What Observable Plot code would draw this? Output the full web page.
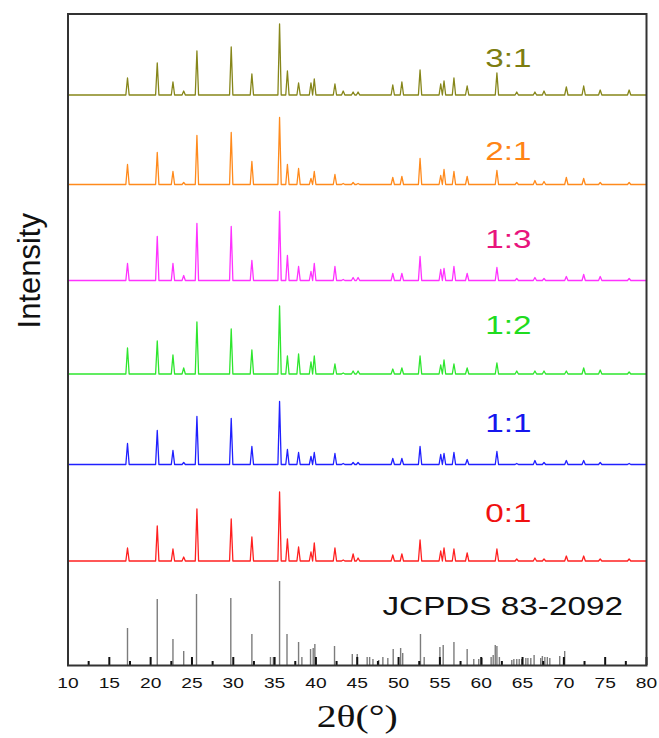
<!DOCTYPE html>
<html>
<head>
<meta charset="utf-8">
<script src="https://cdn.jsdelivr.net/npm/d3@7"></script>
<script src="https://cdn.jsdelivr.net/npm/@observablehq/plot@0.6"></script>
<style>
  html, body { margin: 0; padding: 0; background: #fff; }
  #chart svg { display: block; }
</style>
</head>
<body>
<div id="chart"></div>
<script>
// ---------- data ----------
const seriesNames = ["3:1", "2:1", "1:3", "1:2", "1:1", "0:1"];
const lineColors  = ["#86861a", "#ff8a1c", "#ff33ff", "#2ee62e", "#2020ff", "#ff2020"];
const labelColors = ["#7d7d10", "#ff8416", "#e8147c", "#1fdc1f", "#1616ee", "#f01010"];
// vertical stacking offsets of each pattern (intensity units)
const seriesOffsets = [570.5, 481, 385, 291.5, 201, 104.5];
// label height above each pattern's baseline
const labelLift = [36, 33, 41, 48, 41, 47];
const labelX = 63.3;

// 2θ peak positions shared by the measured patterns
const peakPositions = [17.2, 20.8, 22.7, 24.0, 25.6, 29.75, 32.25, 35.6, 36.55, 37.9, 39.4, 39.8,
  42.3, 43.3, 44.5, 45.1, 49.3, 50.4, 52.6, 55.1, 55.5, 56.7, 58.3, 61.9, 64.3, 66.5, 67.6,
  70.3, 72.4, 74.4, 77.9];
const h31 = [17, 32, 13, 4, 44, 48, 21, 71, 24, 12, 12, 16, 11, 4, 3, 3, 10, 13, 25, 11, 14, 17, 9, 22, 3, 3, 4, 8, 9, 5, 5];
const h21 = [20, 32, 13, 2, 49, 52, 23, 67, 20, 16, 6, 13, 10, 1, 2, 1, 7, 8, 26, 9, 15, 13, 8, 14, 2, 4, 3, 7, 6, 2, 2];
const h13 = [17, 44, 17, 5, 57, 54, 20, 69, 25, 14, 9, 17, 14, 1, 3, 3, 7, 7, 24, 11, 12, 14, 7, 13, 2, 3, 2, 4, 6, 4, 2];
const h12 = [26, 33, 19, 6, 52, 45, 24, 68, 18, 20, 12, 18, 10, 1, 3, 3, 5, 6, 18, 9, 14, 10, 6, 11, 3, 3, 3, 3, 6, 4, 2];
const h11 = [21, 34, 14, 2, 48, 46, 18, 63, 15, 12, 8, 12, 11, 1, 2, 2, 6, 6, 18, 10, 11, 12, 5, 13, 1, 4, 2, 4, 4, 2, 1];
const h01 = [13, 35, 12, 4, 52, 42, 24, 69, 22, 14, 9, 18, 13, 1, 7, 3, 6, 7, 21, 10, 13, 12, 8, 12, 2, 3, 2, 5, 5, 2, 2];
const seriesHeights = [h31, h21, h13, h12, h11, h01];

// JCPDS 83-2092 reference pattern
const refPositions = [17.2, 20.8, 22.7, 24.0, 25.55, 29.7, 32.25, 34.5, 34.85, 35.6, 36.5, 37.9, 38.3,
  39.35, 39.67, 39.87, 42.25, 44.4, 45.0, 46.2, 46.5, 46.9, 47.6, 48.1, 48.7, 49.35, 50.25, 50.5,
  52.65, 53.1, 55.0, 55.4, 56.7, 58.3, 59.1, 59.7, 60.1, 61.2, 61.45, 61.7, 61.9, 62.2, 63.7, 63.95,
  64.3, 64.6, 64.9, 65.4, 65.65, 66.0, 66.4, 67.2, 67.4, 67.7, 68.0, 68.3, 69.5, 70.1];
const refHeights = [37, 66, 26, 14, 71, 67, 31, 8, 8, 84, 31, 23, 8,
  16, 17, 21, 19, 11, 11, 8, 8, 6, 5, 8, 7, 16, 17, 12,
  31, 8, 18, 20, 23, 16, 6, 6, 7, 8, 10, 20, 19, 8, 5, 6,
  6, 6, 6, 7, 7, 7, 10, 7, 9, 8, 8, 7, 9, 14];

const xTicks = [10, 15, 20, 25, 30, 35, 40, 45, 50, 55, 60, 65, 70, 75, 80];
const xMinorTicks = [12.5, 17.5, 22.5, 27.5, 32.5, 37.5, 42.5, 47.5, 52.5, 57.5, 62.5, 67.5, 72.5, 77.5];
const refLabel = "JCPDS 83-2092";

// ---------- build line tables ----------
const halfWidth = 0.2;
const patterns = seriesNames.map((name, i) => {
  const off = seriesOffsets[i];
  const pts = [{x: 10, y: off}];
  peakPositions.forEach((p, j) => {
    pts.push({x: p - halfWidth, y: off});
    pts.push({x: p, y: off + seriesHeights[i][j]});
    pts.push({x: p + halfWidth, y: off});
  });
  pts.push({x: 80, y: off});
  return pts;
});
const refRows = refPositions.map((p, i) => ({x: p, h: refHeights[i]}));

const W = 659, H = 738;
const marks = [];
marks.push(Plot.ruleX(refRows, {x: "x", y1: 0, y2: "h", stroke: "#7c7c7c", strokeWidth: 1.4}));
patterns.forEach((pts, i) => {
  marks.push(Plot.line(pts, {x: "x", y: "y", stroke: lineColors[i], strokeWidth: 1.3}));
  marks.push(Plot.text([seriesNames[i]], {
    x: labelX, y: seriesOffsets[i] + labelLift[i], text: d => d,
    fill: labelColors[i], fontSize: 26
  }));
});
marks.push(Plot.text([refLabel], {x: 62.6, y: 59, text: d => d, fill: "#111", fontSize: 26}));
marks.push(Plot.ruleX(xTicks, {x: d => d, y1: 0, y2: 8, stroke: "#111", strokeWidth: 2}));
marks.push(Plot.ruleX(xMinorTicks, {x: d => d, y1: 0, y2: 4, stroke: "#111", strokeWidth: 2}));
marks.push(Plot.frame({stroke: "#333", strokeWidth: 2}));
marks.push(Plot.text(["Intensity"], {frameAnchor: "left", textAnchor: "middle", rotate: -90, dx: -38, dy: -69, fontSize: 31, fill: "#111"}));
marks.push(Plot.text(["2θ(°)"], {frameAnchor: "bottom", dy: 61, fontSize: 31, fontFamily: "Liberation Serif, Times New Roman, serif", fill: "#111"}));

const chart = Plot.plot({
  width: W, height: H,
  marginLeft: 67.5, marginRight: 13, marginTop: 13.5, marginBottom: 73,
  style: {fontFamily: "Liberation Sans, Arial, sans-serif", background: "#fff", color: "#111"},
  x: {domain: [10, 80], ticks: xTicks, tickSize: 0, tickPadding: 12, tickFormat: d => String(d), label: null},
  y: {domain: [0, 651.5], axis: null},
  marks
});
document.getElementById("chart").appendChild(chart);

// horizontally widened lettering, as in the reference
chart.querySelectorAll("text").forEach(el => {
  if (el.textContent === "Intensity") return;
  if (el.closest('g[aria-label^="x-axis"]')) el.style.fontSize = "15px";
  const t = el.getAttribute("transform");
  if (t) {
    if (/rotate/.test(t)) return;
    const m = /translate\(\s*([-\d.e]+)[\s,]+([-\d.e]+)\s*\)/.exec(t);
    if (!m) return;
    el.removeAttribute("transform");
    el.style.transformOrigin = "0 0";
    el.style.transform = `translate(${m[1]}px, ${m[2]}px) scaleX(1.28)`;
  } else {
    el.style.transformBox = "fill-box";
    el.style.transformOrigin = "center";
    el.style.transform = "scaleX(1.28)";
  }
});
</script>
</body>
</html>
